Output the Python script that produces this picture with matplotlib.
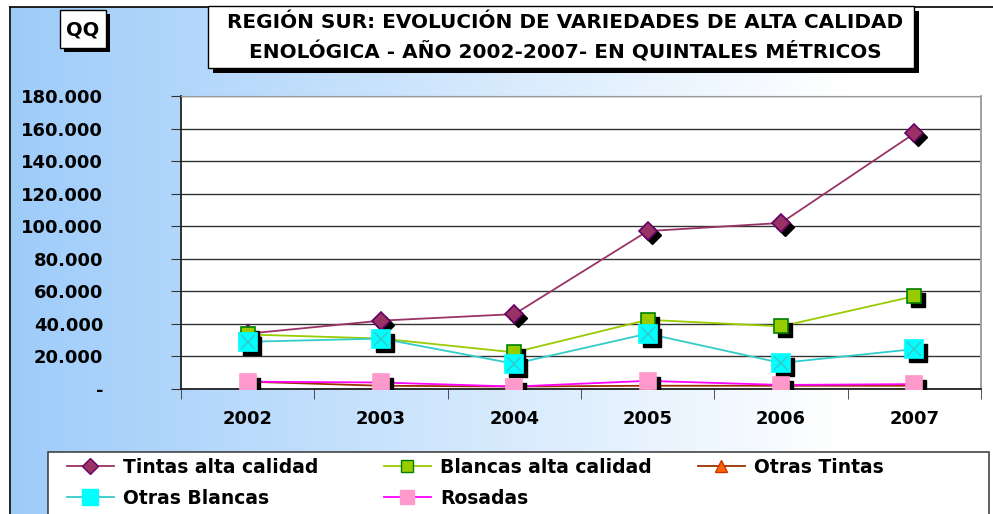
import matplotlib.pyplot as plt
import matplotlib.transforms as mtransforms
from matplotlib.patches import Rectangle
from matplotlib.lines import Line2D
from matplotlib.ticker import FuncFormatter, FixedLocator
import numpy as np

years = ['2002', '2003', '2004', '2005', '2006', '2007']
tintas_alta = [34000, 42000, 46000, 97000, 102000, 157000]
blancas_alta = [33500, 31000, 22500, 42500, 38500, 57000]
otras_tintas = [4500, 2000, 1500, 2000, 2000, 2000]
otras_blancas = [29000, 31000, 15500, 34000, 16000, 24500]
rosadas = [4500, 4000, 1500, 5000, 2500, 3000]
yticks = [0, 20000, 40000, 60000, 80000, 100000, 120000, 140000, 160000, 180000]

W, H = 993, 514
fig = plt.figure(figsize=(W / 100, H / 100), dpi=100)
fig.patch.set_facecolor('white')
plt.rcParams['font.family'] = ['DejaVu Sans']

def fx(px):
    return px / W

def fy(py):
    return 1 - py / H

# background gradient
bg = fig.add_axes([fx(11), 0, 1 - fx(11), fy(7)], zorder=-5)
grad = np.linspace(0, 1, 256)
c0 = np.array([0.62, 0.80, 0.98])
c1 = np.array([1.0, 1.0, 1.0])
t = np.clip(grad / 0.85, 0, 1)[None, :, None]
img = c0 * (1 - t) + c1 * t
bg.imshow(np.repeat(img, 2, axis=0), aspect='auto', extent=[0, 1, 0, 1])
bg.set_axis_off()
fig.add_artist(Line2D([fx(10), fx(10)], [0, fy(7)], color='black', lw=1.2))
fig.add_artist(Line2D([fx(10), 1], [fy(7), fy(7)], color='black', lw=1.2))

def shadow_box(x0, y0, x1, y1, off=5):
    fig.add_artist(Rectangle((fx(x0 + off), fy(y1 + off)), fx(x1 - x0), (y1 - y0) / H,
                             facecolor='black', edgecolor='none', zorder=2))
    fig.add_artist(Rectangle((fx(x0), fy(y1)), fx(x1 - x0), (y1 - y0) / H,
                             facecolor='white', edgecolor='black', lw=1, zorder=3))

shadow_box(208, 6, 914, 68)
shadow_box(60, 10, 106, 48, off=4)
fig.text(fx(83), fy(30), 'QQ', ha='center', va='center', fontsize=14, fontweight='bold', zorder=4)
fig.text(fx(565), fy(23), 'REGIÓN SUR: EVOLUCIÓN DE VARIEDADES DE ALTA CALIDAD',
         ha='center', va='center', fontsize=14.4, fontweight='bold', zorder=4)
fig.text(fx(565), fy(52), 'ENOLÓGICA - AÑO 2002-2007- EN QUINTALES MÉTRICOS',
         ha='center', va='center', fontsize=14.4, fontweight='bold', zorder=4)

ax = fig.add_axes([fx(181), fy(389), fx(981 - 181), (389 - 96) / H])
ax.set_facecolor('white')
x = np.arange(len(years))

series = [
    ('Tintas alta calidad', tintas_alta, '#993366', 'D', '#993366', '#660066', 9),
    ('Blancas alta calidad', blancas_alta, '#99cc00', 's', '#99cc00', '#008000', 9.5),
    ('Otras Tintas', otras_tintas, '#993300', '^', '#ff6600', '#cc3300', 9),
    ('Otras Blancas', otras_blancas, '#33cccc', 's', '#00ffff', '#00ffff', 12.5),
    ('Rosadas', rosadas, '#ff00ff', 's', '#ff99cc', '#ff99cc', 11.5),
]

shadow = ax.transData + mtransforms.ScaledTranslation(4 / 100, -4 / 100, fig.dpi_scale_trans)
handles = {}
for name, vals, lc, mk, mf, me, ms in series:
    ax.plot(x, vals, color=lc, lw=1.3, zorder=3)
for name, vals, lc, mk, mf, me, ms in series:
    ax.plot(x, vals, ls='none', marker=mk, ms=ms, mfc='black', mec='black', transform=shadow, zorder=4)
    ax.plot(x, vals, ls='none', marker=mk, ms=ms, mfc=mf, mec=me, mew=1.2, zorder=5)
    if name == 'Otras Blancas':
        ax.plot(x, vals, ls='none', marker='x', ms=ms - 2, mec='#33cccc', mew=1.2, zorder=6)
    handles[name] = Line2D([], [], color=lc, lw=1.3, marker=mk, ms=ms - 1, mfc=mf, mec=me)

ax.set_xlim(-0.5, 5.5)
ax.set_ylim(0, 180000)
ax.set_xticks(x)
ax.set_xticklabels(years, fontsize=13, fontweight='bold')
ax.xaxis.set_minor_locator(FixedLocator(np.arange(-0.5, 6, 1)))
ax.tick_params(axis='x', which='major', length=0, pad=15)
ax.tick_params(axis='x', which='minor', length=7, direction='out', color='#333333')
ax.set_yticks(yticks)
ax.yaxis.set_major_formatter(FuncFormatter(lambda v, p: '-' if v == 0 else f'{int(v):,}'.replace(',', '.')))
for lab in ax.get_yticklabels():
    lab.set_fontweight('bold')
    lab.set_fontsize(13)
ax.tick_params(axis='y', length=7, direction='out', pad=49, color='#333333')
ax.grid(axis='y', color='#333333', lw=1)
ax.set_axisbelow(True)
for s in ['left', 'bottom']:
    ax.spines[s].set_color('#222222')
    ax.spines[s].set_linewidth(1.3)
ax.spines['right'].set_color('#999999')
ax.spines['top'].set_color('#999999')
ax.spines['right'].set_linewidth(1.3)

# legend box, three columns placed like the original
fig.add_artist(Rectangle((fx(48), fy(560)), fx(989 - 48), (560 - 452) / H,
                         facecolor='white', edgecolor='#444444', lw=1.2, zorder=2))
columns = [(67, ['Tintas alta calidad', 'Otras Blancas']),
           (384, ['Blancas alta calidad', 'Rosadas']),
           (698, ['Otras Tintas'])]
for xpos, names in columns:
    leg = fig.legend([handles[n] for n in names], names, loc='upper left',
                     bbox_to_anchor=(fx(xpos), fy(458)), frameon=False,
                     prop={'weight': 'bold', 'size': 13.5}, handlelength=2.5,
                     handletextpad=0.5, labelspacing=0.62, borderaxespad=0, borderpad=0)
    leg.set_zorder(5)

fig.savefig('out.png', dpi=100)
